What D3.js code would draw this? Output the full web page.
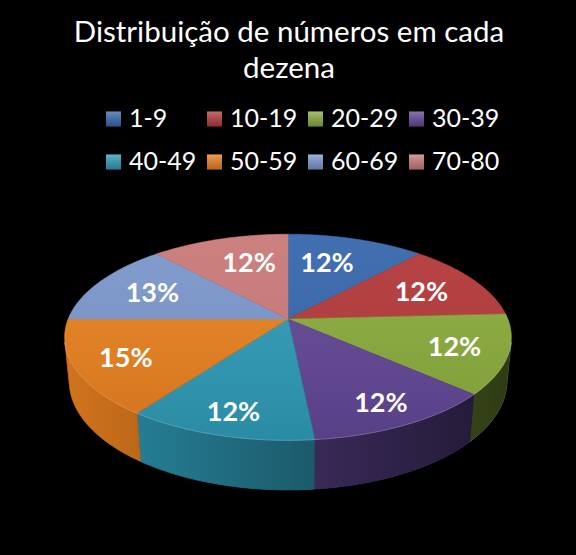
<!DOCTYPE html>
<head>
<meta charset="utf-8">
<script src="https://d3js.org/d3.v7.min.js"></script>
<style>
body { margin: 0; background: #000; }
text { font-family: Lato, "Open Sans", sans-serif; fill: #ffffff; }
text.title { font-size: 29.5px; }
text.legendLabel { font-size: 25px; }
text.pctLabel { font-size: 27px; font-weight: 700; }
</style>
</head>
<body>
<script>
const categories = ["1-9", "10-19", "20-29", "30-39", "40-49", "50-59", "60-69", "70-80"];
const values = [11.8, 12.4, 12.4, 11.8, 11.6, 15.0, 13.2, 11.8];
const colors = ["#3767ac", "#b4393a", "#8aab3c", "#614695", "#2e9ab6", "#e8801f", "#7a97cb", "#c97a78"];
const titleLines = ["Distribuição de números em cada", "dezena"];

var width = 576, height = 555;

var svg = d3.select("body").append("svg")
   .attr("width", width)
   .attr("height", height);

svg.append("rect").attr("width", width).attr("height", height).attr("fill", "#000");

// simple perspective camera looking down on the pie
const cx = 288, cy = 319;
const tilt = 27 * Math.PI / 180, sinT = Math.sin(tilt), cosT = Math.cos(tilt);
const dist = 5.03, focal = 1106, thick = 0.226;

function project(theta, r, h) {
   let x = r * Math.sin(theta), z = -r * Math.cos(theta);
   let depth = dist - (h * sinT + z * cosT);
   let v = h * cosT - z * sinT;
   return [cx + focal * x / depth, cy - focal * v / depth];
}

function rim(a0, a1, h) {
   let n = Math.max(2, Math.ceil(Math.abs(a1 - a0) / 0.01));
   return d3.range(n + 1).map(i => project(a0 + (a1 - a0) * i / n, 1, h));
}

let line = d3.line();
let arcs = d3.pie().sort(null).value(d => d)(values);

// visible part of the side wall
const edge = Math.acos(-1 / (dist * cosT));
const wallA = edge, wallB = 2 * Math.PI - edge;

let defs = svg.append("defs");
let wg = defs.append("linearGradient").attr("id", "wallShade")
   .attr("gradientUnits", "userSpaceOnUse")
   .attr("x1", cx - focal / dist).attr("x2", cx + focal / dist)
   .attr("y1", 0).attr("y2", 0);
wg.append("stop").attr("offset", 0).attr("stop-color", "#000").attr("stop-opacity", 0.1);
wg.append("stop").attr("offset", 1).attr("stop-color", "#000").attr("stop-opacity", 0.66);

let tg = defs.append("linearGradient").attr("id", "topShade")
   .attr("x1", 0).attr("x2", 0).attr("y1", 0).attr("y2", 1);
tg.append("stop").attr("offset", 0).attr("stop-color", "#fff").attr("stop-opacity", 0.05);
tg.append("stop").attr("offset", 1).attr("stop-color", "#000").attr("stop-opacity", 0.1);

let kg = defs.append("linearGradient").attr("id", "keyShade")
   .attr("x1", 0).attr("x2", 0).attr("y1", 0).attr("y2", 1);
kg.append("stop").attr("offset", 0).attr("stop-color", "#fff").attr("stop-opacity", 0.25);
kg.append("stop").attr("offset", 1).attr("stop-color", "#000").attr("stop-opacity", 0.2);

// side walls
let walls = arcs.map(d => {
   let a = Math.max(d.startAngle, wallA), b = Math.min(d.endAngle, wallB);
   if (b <= a) return null;
   return { d: d, path: rim(a, b, 0).concat(rim(b, a, -thick)) };
}).filter(w => w);

svg.selectAll("path.wall")
   .data(walls)
   .enter()
   .append("path")
   .attr("class", "wall")
   .attr("d", w => line(w.path) + "Z")
   .attr("fill", w => colors[w.d.index])
   .attr("stroke", w => colors[w.d.index])
   .attr("stroke-width", 0.5);

svg.append("path")
   .attr("d", line(rim(wallA, wallB, 0).concat(rim(wallB, wallA, -thick))) + "Z")
   .attr("fill", "url(#wallShade)");

// top faces
svg.selectAll("path.top")
   .data(arcs)
   .enter()
   .append("path")
   .attr("class", "top")
   .attr("d", d => line([[cx, cy]].concat(rim(d.startAngle, d.endAngle, 0))) + "Z")
   .attr("fill", d => colors[d.index])
   .attr("stroke", d => colors[d.index])
   .attr("stroke-width", 0.5);

svg.append("path")
   .attr("d", line(rim(0, 2 * Math.PI, 0)) + "Z")
   .attr("fill", "url(#topShade)");

svg.append("path")
   .attr("d", line(rim(wallA, wallB, 0)))
   .attr("fill", "none")
   .attr("stroke", "#fff")
   .attr("stroke-opacity", 0.22)
   .attr("stroke-width", 1);

// percent labels
let total = d3.sum(values);
svg.selectAll("text.pctLabel")
   .data(arcs)
   .enter()
   .append("text")
   .attr("class", "pctLabel")
   .attr("text-anchor", "middle")
   .attr("dominant-baseline", "central")
   .attr("transform", d => {
      let m = (d.startAngle + d.endAngle) / 2;
      let c = Math.cos(m);
      // pull labels near the back a little toward the middle line
      let a = m + (c > 0.8 ? -0.07 * Math.sign(Math.sin(m)) : 0);
      let p = project(a, 0.74 - 0.08 * c, 0);
      return `translate(${p[0]},${p[1]})`;
   })
   .text(d => d3.format(".0%")(d.data / total));

// title
svg.selectAll("text.title")
   .data(titleLines)
   .enter()
   .append("text")
   .attr("class", "title")
   .attr("x", 289)
   .attr("y", (d, i) => 41.5 + i * 36.5)
   .attr("text-anchor", "middle")
   .text(d => d);

// legend, 4 per row
let colX = d3.scaleLinear().domain([0, 1]).range([106, 207]);
let rowY = d3.scaleLinear().domain([0, 1]).range([111.5, 154.5]);

let keys = svg.selectAll("g.key")
   .data(categories)
   .enter()
   .append("g")
   .attr("class", "key")
   .attr("transform", (d, i) => `translate(${colX(i % 4)},${rowY(Math.floor(i / 4))})`);

keys.append("rect")
   .attr("width", 15).attr("height", 15)
   .attr("fill", (d, i) => colors[i]);
keys.append("rect")
   .attr("width", 15).attr("height", 15)
   .attr("fill", "url(#keyShade)");
keys.append("text")
   .attr("class", "legendLabel")
   .attr("x", 23)
   .attr("y", 15.5)
   .text(d => d);
</script>
</body>
